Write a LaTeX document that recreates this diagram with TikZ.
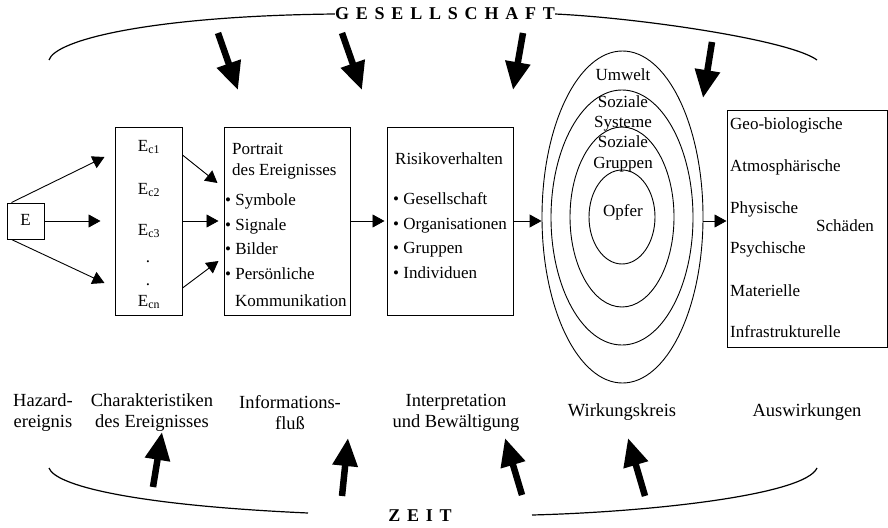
\documentclass[tikz,border=0pt]{standalone}
\usepackage{fontspec}
\setmainfont{Liberation Serif}
\usetikzlibrary{arrows.meta,shapes.geometric}
\newcommand\lsp{\hspace{6.8pt}}
\begin{document}
\begin{tikzpicture}[x=1pt,y=-1pt,
  box/.style={draw, line width=1pt, inner sep=0pt},
  oval/.style={draw, ellipse, line width=0.9pt, inner sep=0pt},
  txt/.style={font=\fontsize{17}{20}\selectfont, inner sep=0pt, text height=11.5pt, text depth=3.5pt},
  ltxt/.style={txt, anchor=west},
  lab/.style={font=\fontsize{18.5}{21}\selectfont, inner sep=0pt, align=center},
  conn/.style={line width=0.9pt, -{Triangle[length=12pt,width=13pt]}},
  big/.style={line width=6.5pt, -{Triangle[length=28pt,width=24pt]}},
  arcline/.style={line width=1.2pt},
  ttl/.style={font=\fontsize{18}{20}\selectfont\bfseries, inner sep=0pt}
]
\useasboundingbox (0,0) rectangle (888,527);

% titles
\node[ttl] (ges) at (445,14) {G\lsp E\lsp S\lsp E\lsp L\lsp L\lsp S\lsp C\lsp H\lsp A\lsp F\lsp T};
\node[ttl] (zeit) at (420,516) {Z\lsp E\lsp I\lsp T};

% arcs
\coordinate (tl) at (49,60);
\coordinate (tr) at (817,60);
\coordinate (bl) at (49,468);
\coordinate (br) at (817,468);
\draw[arcline] (tl) .. controls (55,40) and (150,16) .. (ges.west);
\draw[arcline] (ges.east) .. controls (640,18) and (790,40) .. (tr);
\draw[arcline] (bl) .. controls (55,485) and (130,505) .. (308,513);
\draw[arcline] (532,515) .. controls (650,512) and (805,495) .. (br);

% boxes
\node[box, minimum width=37pt, minimum height=36pt] (E) at (25.5,221) {};
\node[txt] (Et) at (25.5,221) {E};
\node[box, minimum width=67pt, minimum height=188pt] (Ec) at (148.5,221) {};
\node[box, minimum width=126pt, minimum height=188pt] (P) at (287,221) {};
\node[box, minimum width=126pt, minimum height=188pt] (R) at (450,221) {};
\node[box, minimum width=160pt, minimum height=237pt] (S) at (807,228.5) {};

% ellipses
\node[oval, minimum width=161pt, minimum height=332pt] (O1) at (622.5,217) {};
\node[oval, minimum width=142pt, minimum height=255pt] (O2) at (622,217.5) {};
\node[oval, minimum width=104pt, minimum height=180pt] (O3) at (622,217) {};
\node[oval, minimum width=66pt, minimum height=94pt] (O4) at (622,217) {};

% Ec labels
\node[txt] (ec1) at (149,147) {E\textsubscript{c1}};
\node[txt] (ec2) at (149,190) {E\textsubscript{c2}};
\node[txt] (ec3) at (149,231) {E\textsubscript{c3}};
\node[txt] (d1) at (148,258) {.};
\node[txt] (d2) at (148,281) {.};
\node[txt] (ecn) at (149,302) {E\textsubscript{cn}};

% Portrait texts
\node[ltxt] (p1) at (232,150) {Portrait};
\node[ltxt] (p2) at (232,171) {des Ereignisses};
\node[ltxt] (p3) at (225,201) {• Symbole};
\node[ltxt] (p4) at (225,226) {• Signale};
\node[ltxt] (p5) at (225,250) {• Bilder};
\node[ltxt] (p6) at (225,275) {• Persönliche};
\node[ltxt] (p7) at (235,302) {Kommunikation};

% Risiko texts
\node[txt] (r1) at (449,160) {Risikoverhalten};
\node[ltxt] (r2) at (393,200) {• Gesellschaft};
\node[ltxt] (r3) at (393,225) {• Organisationen};
\node[ltxt] (r4) at (393,249) {• Gruppen};
\node[ltxt] (r5) at (393,274) {• Individuen};

% ellipse texts
\node[txt] (o1) at (623,77) {Umwelt};
\node[txt] (o2) at (623,103) {Soziale};
\node[txt] (o3) at (623,123) {Systeme};
\node[txt] (o4) at (623,143) {Soziale};
\node[txt] (o5) at (623,164) {Gruppen};
\node[txt] (o6) at (623,212) {Opfer};

% Schaeden texts
\node[ltxt] (s1) at (730,125) {Geo-biologische};
\node[ltxt] (s2) at (730,167) {Atmosphärische};
\node[ltxt] (s3) at (730,209) {Physische};
\node[ltxt] (s4) at (730,249) {Psychische};
\node[ltxt] (s5) at (730,292) {Materielle};
\node[ltxt] (s6) at (730,333) {Infrastrukturelle};
\node[txt] (s7) at (845,227) {Schäden};

% bottom labels
\node[lab] (b1) at (43,412.5) {Hazard-\\ereignis};
\node[lab] (b2) at (152,412.5) {Charakteristiken\\des Ereignisses};
\node[lab] (b3) at (290,412.5) {Informations-\\fluß};
\node[lab] (b4) at (456,412.5) {Interpretation\\und Bewältigung};
\node[lab] (b5) at (622,412) {Wirkungskreis};
\node[lab] (b6) at (807,412) {Auswirkungen};

% connectors
\draw[conn] ([xshift=5pt]E.north west) -- ([xshift=-10pt,yshift=64pt]Ec.west);
\draw[conn] (E.east) -- ([xshift=-14pt]Ec.west);
\draw[conn] ([xshift=5pt]E.south west) -- ([xshift=-10pt,yshift=-62pt]Ec.west);
\draw[conn] ([yshift=66pt]Ec.east) -- ([xshift=-6pt,yshift=38pt]P.west);
\draw[conn] (Ec.east) -- ([xshift=-5pt]P.west);
\draw[conn] ([yshift=-67pt]Ec.east) -- ([xshift=-5pt,yshift=-40pt]P.west);
\draw[conn] (P.east) -- ([xshift=-2pt]R.west);
\draw[conn] (R.east) -- (R.east -| O1.west);
\draw[conn] (R.east -| O1.east) -- (R.east -| S.west);

% heavy arrows
\coordinate (g1s) at (218,33); \coordinate (g1e) at (238,90);
\coordinate (g2s) at (342,33); \coordinate (g2e) at (362,90);
\coordinate (g3s) at (523,33); \coordinate (g3e) at (513,90);
\coordinate (g4s) at (712,42); \coordinate (g4e) at (703,98);
\coordinate (z1s) at (153,487); \coordinate (z1e) at (162,432);
\coordinate (z2s) at (342,496); \coordinate (z2e) at (348,438);
\coordinate (z3s) at (522,495); \coordinate (z3e) at (505,438);
\coordinate (z4s) at (645,496); \coordinate (z4e) at (628,438);
\draw[big] (g1s) -- (g1e);
\draw[big] (g2s) -- (g2e);
\draw[big] (g3s) -- (g3e);
\draw[big] (g4s) -- (g4e);
\draw[big] (z1s) -- (z1e);
\draw[big] (z2s) -- (z2e);
\draw[big] (z3s) -- (z3e);
\draw[big] (z4s) -- (z4e);
\end{tikzpicture}
\end{document}
